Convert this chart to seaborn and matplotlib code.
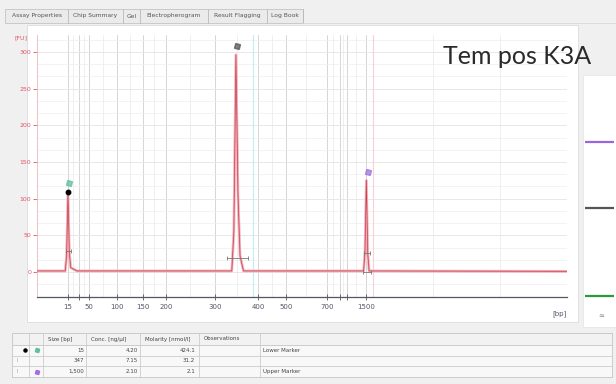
import numpy as np
import seaborn as sns
import matplotlib.pyplot as plt
from matplotlib.patches import Rectangle

# ladder: fragment size [bp] and migration time [s]
ladder_bp = [15, 25, 50, 100, 150, 200, 300, 400, 500, 700, 850, 1000, 1500]
ladder_time = [42.5, 44.1, 45.6, 49.6, 53.4, 56.7, 63.9, 70.1, 74.2, 80.1, 82.0, 83.0, 85.8]
label_bp = [15, 50, 100, 150, 200, 300, 400, 500, 700, 1500]
extra_grid_time = [95.5, 105.3]

# electropherogram trace
trace_time = [38.0, 42.1, 42.3, 42.5, 42.7, 42.9, 43.3, 43.8,
              66.3, 66.6, 66.9, 67.2, 67.5, 68.0,
              85.45, 85.65, 85.85, 86.05, 86.25, 115.0]
trace_fu = [1.5, 1.5, 22, 109, 26, 6, 4, 1.5,
            1.5, 55, 296, 105, 22, 1.5,
            1.5, 28, 125, 26, 1.5, 1.0]

# detected peaks
peak_time = [42.5, 66.9, 85.85]
peak_fu = [109, 296, 125]
peak_color = ['#5fbfa0', '#555555', '#a070e0']
window_fu = [28, 19, 26]
window_left = [42.2, 65.6, 85.5]
window_right = [42.9, 68.6, 86.4]

# results table
tab_names = ['Assay Properties', 'Chip Summary', 'Gel', 'Electropherogram', 'Result Flagging', 'Log Book']
table_header = ['Size [bp]', 'Conc. [ng/µl]', 'Molarity [nmol/l]', 'Observations']
size_col = ['15', '347', '1,500']
conc_col = ['4.20', '7.15', '2.10']
molar_col = ['424.1', '31.2', '2.1']
obs_col = ['Lower Marker', '', 'Upper Marker']

W, H = 616, 384
sns.set_theme(style='white')
plt.rcParams['font.family'] = ['DejaVu Sans']

fig = plt.figure(figsize=(W / 100, H / 100), dpi=100, facecolor='#f0f0f0')

# overlay in pixel coordinates for the window furniture
ov = fig.add_axes([0, 0, 1, 1], zorder=0)
ov.set_xlim(0, W)
ov.set_ylim(H, 0)
ov.axis('off')
ov.add_patch(Rectangle((27, 25), 551, 297, facecolor='white', edgecolor='#dcdcdc', lw=0.6))
ov.add_patch(Rectangle((583, 75), 33, 252, facecolor='white', edgecolor='#e4e4e4', lw=0.5))

# tab bar
tab_edges = [5, 68, 123, 140, 208, 267, 303]
ov.add_patch(Rectangle((5, 9), 298, 14, facecolor='#ebebeb', edgecolor='#c4c4c4', lw=0.6))
for i, name in enumerate(tab_names):
    x0, x1 = tab_edges[i], tab_edges[i + 1]
    ov.plot([x1, x1], [9, 23], color='#b8b8b8', lw=0.6)
    ov.text((x0 + x1) / 2, 16, name, fontsize=4.3, color='#555555', ha='center', va='center')
ov.plot([303, 616], [23, 23], color='#d8d8d8', lw=0.6)

# legend strip on the right
for yy, c in zip([142, 208, 296], ['#9a66dd', '#555555', '#2a9a3a']):
    ov.plot([585, 614], [yy, yy], color=c, lw=1.6, solid_capstyle='butt')
ov.text(601, 316, '≈', fontsize=5, color='#777777', ha='center', va='center')

# results table
col_x = [12, 29, 43, 86, 140, 199, 260, 612]
row_y = [333, 344.5, 355.5, 366, 377]
ov.add_patch(Rectangle((12, 333), 600, 44, facecolor='#f8f8f8', edgecolor='#c8c8c8', lw=0.6))
ov.add_patch(Rectangle((12, 333), 600, 11.5, facecolor='#f2f2f2', edgecolor='#c8c8c8', lw=0.6))
for x in col_x:
    ov.plot([x, x], [333, 377], color='#cccccc', lw=0.6)
for y in row_y:
    ov.plot([12, 612], [y, y], color='#cccccc', lw=0.6)
for j, h in enumerate(table_header):
    ov.text(col_x[j + 2] + 5, 339, h, fontsize=4, color='#444444', va='center')
for i in range(3):
    yc = (row_y[i + 1] + row_y[i + 2]) / 2
    ov.text(col_x[3] - 2, yc, size_col[i], fontsize=4, color='#444444', ha='right', va='center')
    ov.text(col_x[4] - 2, yc, conc_col[i], fontsize=4, color='#444444', ha='right', va='center')
    ov.text(col_x[5] - 4, yc, molar_col[i], fontsize=4, color='#444444', ha='right', va='center')
    ov.text(col_x[6] + 3, yc, obs_col[i], fontsize=4, color='#444444', ha='left', va='center')
ov.plot([25], [350], 'o', color='black', ms=2.2)
ov.plot([37], [350], marker=(4, 0, 30), color=peak_color[0], ms=3.5)
ov.plot([37], [371.5], marker=(4, 0, 30), color=peak_color[2], ms=3.5)
ov.text(17, 360.7, 'I', fontsize=3.5, color='#999999', ha='center', va='center')
ov.text(17, 371.5, 'I', fontsize=3.5, color='#999999', ha='center', va='center')

# electropherogram
ax = fig.add_axes([37 / W, 1 - 297 / H, 530 / W, 262 / H], zorder=2)
ax.set_facecolor('white')
ax.set_xlim(38, 115)
ax.set_ylim(-34, 323)

for t in ladder_time:
    ax.axvline(t, color='#cfcfcf', lw=0.6, zorder=0)
mids = [(a + b) / 2 for a, b in zip(ladder_time[:-1], ladder_time[1:])]
for t in mids + extra_grid_time:
    ax.axvline(t, color='#ececec', lw=0.6, zorder=0)
for v in np.arange(0, 301, 50):
    ax.axhline(v, color='#d6d6d6', lw=0.6, zorder=0)
for v in np.arange(-50 / 3, 323, 50 / 3):
    ax.axhline(v, color='#eeeeee', lw=0.5, zorder=0)
ax.axvline(69.4, color='#bfeff0', lw=0.8, zorder=0)
ax.axvline(86.8, color='#f8d0d6', lw=0.8, zorder=0)

sns.lineplot(x=trace_time, y=trace_fu, ax=ax, color='#f4a3ad', lw=1.9,
             estimator=None, sort=False, alpha=0.9, zorder=3)
sns.lineplot(x=trace_time, y=trace_fu, ax=ax, color='#c04050', lw=0.5,
             estimator=None, sort=False, zorder=4)

for l, r, f in zip(window_left, window_right, window_fu):
    ax.plot([l, r], [f, f], color='#777777', lw=0.6, marker='|', ms=3, mew=0.6, zorder=5)
ax.plot([85.3, 86.5], [0, 0], color='#777777', lw=0.6, marker='|', ms=3, mew=0.6, zorder=5)

ax.plot(peak_time[0], peak_fu[0], 'o', color='black', ms=3.2, zorder=6)
for t, f, c in zip(peak_time, peak_fu, peak_color):
    ax.plot(t + 0.2, f + 12, marker=(4, 0, 30), color=c, ms=5, alpha=0.75, zorder=6)

ax.set_xticks([ladder_time[ladder_bp.index(b)] for b in label_bp])
ax.set_xticklabels([str(b) for b in label_bp])
ax.set_xticks([t for b, t in zip(ladder_bp, ladder_time) if b not in label_bp], minor=True)
ax.tick_params(axis='x', which='both', direction='inout', length=4, width=0.6,
               colors='#555566', labelsize=5, pad=3, bottom=True)
ax.set_yticks(np.arange(0, 301, 50))
ax.tick_params(axis='y', direction='out', length=3, width=0.6, colors='#e05565',
               labelsize=4.5, pad=1, left=True)
for s in ['top', 'right']:
    ax.spines[s].set_visible(False)
ax.spines['left'].set_color('#e8b8be')
ax.spines['left'].set_linewidth(0.6)
ax.spines['bottom'].set_color('#555566')
ax.spines['bottom'].set_linewidth(0.9)

ax.text(-0.03, 1.0, '[FU]', transform=ax.transAxes, fontsize=4.5, color='#e05565',
        ha='center', va='top')
ax.text(1.0, -0.05, '[bp]', transform=ax.transAxes, fontsize=5, color='#555566',
        ha='right', va='top')

fig.text(443 / W, 1 - 56 / H, 'Tem pos K3A', fontsize=18, family=['Lato', 'DejaVu Sans'],
         color='#2a2a2a', ha='left', va='center')

fig.savefig('out.png', dpi=100, facecolor=fig.get_facecolor())
